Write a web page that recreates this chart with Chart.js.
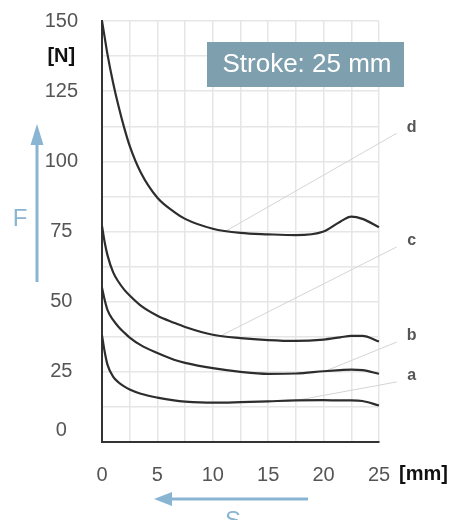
<!DOCTYPE html>
<html>
<head>
<meta charset="utf-8">
<style>
  html, body { margin: 0; padding: 0; background: #fff; }
  canvas { display: block; }
</style>
</head>
<body>
<canvas id="chart" width="452" height="520"></canvas>
<script src="https://cdn.jsdelivr.net/npm/chart.js"></script>
<script>
const strokeMm = [0, 0.25, 0.5, 1, 1.5, 2, 2.5, 3.5, 5, 6.5, 7.5, 10, 12.5, 15, 17.5, 20, 21.5, 22.5, 23.5, 25];
// force (N) for each spring curve
const forceA = [38, 32, 27.5, 23.3, 21.2, 19.8, 18.7, 17.2, 15.8, 14.8, 14.4, 14, 14.2, 14.5, 14.8, 14.9, 14.8, 14.8, 14.6, 13];
const forceB = [55, 50.5, 47, 43.5, 41, 39, 37.2, 34.5, 31.7, 29.3, 28.2, 26.3, 25, 24.3, 24.4, 25.2, 25.6, 25.8, 25.6, 24.3];
const forceC = [77, 71, 66.5, 60.5, 57, 54.3, 52.2, 48.6, 45, 42.5, 41, 38.2, 37, 36.3, 36, 36.5, 37.3, 37.8, 37.8, 35.8];
const forceD = [150, 144, 138, 128, 119.5, 112, 105.5, 96, 87, 82, 79.5, 76, 74.5, 74, 73.7, 75, 78.5, 80.3, 79.5, 76.5];
const curveNames = ["a", "b", "c", "d"];
// leader lines from a curve to its letter (mm, N)
const leaderFromX = [17.5, 20.3, 10.8, 11.1];
const leaderFromY = [14.8, 25.5, 38, 75];
const leaderToX = [26.6, 26.6, 26.6, 26.6];
const leaderToY = [21.4, 35.6, 69.5, 110];

const family = "'Liberation Sans', Arial, Helvetica, sans-serif";
const blue = "#89b5d2";

const curves = [forceA, forceB, forceC, forceD].map((f, i) => ({
  label: curveNames[i],
  data: strokeMm.map((s, j) => ({ x: s, y: f[j] })),
  borderColor: "#2d2d2d",
  borderWidth: 2.2,
  pointRadius: 0,
  cubicInterpolationMode: "monotone",
  clip: false,
  order: 1
}));

const leaders = curveNames.map((n, i) => ({
  label: "leader " + n,
  data: [
    { x: leaderFromX[i], y: leaderFromY[i] },
    { x: leaderToX[i], y: leaderToY[i] }
  ],
  borderColor: "#d4d4d4",
  borderWidth: 1,
  pointRadius: 0,
  tension: 0,
  clip: false,
  order: 2
}));

const extras = {
  id: "extras",
  afterDraw(chart) {
    const { ctx, scales: { x, y } } = chart;
    ctx.save();

    // curve letters
    ctx.fillStyle = "#555";
    ctx.font = "bold 16px " + family;
    ctx.textAlign = "center";
    ctx.textBaseline = "middle";
    curveNames.forEach((n, i) => {
      ctx.fillText(n, x.getPixelForValue(leaderToX[i]) + 15, y.getPixelForValue(leaderToY[i]) - 6);
    });

    // unit on x axis
    ctx.fillStyle = "#111";
    ctx.font = "bold 20px " + family;
    ctx.textAlign = "left";
    ctx.fillText("[mm]", 399, 474);

    // stroke box
    ctx.fillStyle = "#7e9fae";
    ctx.fillRect(207, 42, 197, 45);
    ctx.fillStyle = "#fff";
    ctx.font = "26px " + family;
    ctx.textAlign = "center";
    ctx.fillText("Stroke: 25 mm", 307, 65);

    // F arrow
    ctx.strokeStyle = blue;
    ctx.fillStyle = blue;
    ctx.lineWidth = 3;
    ctx.beginPath();
    ctx.moveTo(37, 282);
    ctx.lineTo(37, 140);
    ctx.stroke();
    ctx.beginPath();
    ctx.moveTo(37, 124);
    ctx.lineTo(30.5, 145);
    ctx.lineTo(43.5, 145);
    ctx.closePath();
    ctx.fill();
    ctx.font = "24px " + family;
    ctx.fillText("F", 20, 219);

    // S arrow
    ctx.beginPath();
    ctx.moveTo(308, 499);
    ctx.lineTo(168, 499);
    ctx.stroke();
    ctx.beginPath();
    ctx.moveTo(154, 499);
    ctx.lineTo(172, 492);
    ctx.lineTo(172, 506);
    ctx.closePath();
    ctx.fill();
    ctx.textBaseline = "top";
    ctx.fillText("S", 233, 509);

    ctx.restore();
  }
};

new Chart(document.getElementById("chart").getContext("2d"), {
  type: "line",
  data: { datasets: [...curves, ...leaders] },
  options: {
    responsive: false,
    animation: false,
    layout: { padding: { top: 21, right: 73, bottom: 18, left: 0 } },
    plugins: { legend: { display: false }, tooltip: { enabled: false } },
    scales: {
      x: {
        type: "linear",
        min: 0,
        max: 25,
        border: { color: "#333", width: 2 },
        grid: { color: "#e6e6e6", lineWidth: 1.5, drawTicks: false },
        ticks: {
          stepSize: 2.5,
          padding: 21,
          autoSkip: false,
          maxRotation: 0,
          color: "#555",
          font: { size: 20, family: family },
          callback: (v) => (v % 5 === 0 ? String(v) : "")
        },
        afterFit: (s) => { s.height = 60; }
      },
      y: {
        min: 0,
        max: 150,
        border: { color: "#333", width: 2 },
        grid: { color: "#e6e6e6", lineWidth: 1.5, drawTicks: false },
        ticks: {
          stepSize: 12.5,
          padding: 24,
          autoSkip: false,
          crossAlign: "center",
          color: (c) => (c.tick && c.tick.value === 137.5 ? "#111" : "#555"),
          font: (c) => ({
            size: 20,
            family: family,
            weight: c.tick && c.tick.value === 137.5 ? "bold" : "normal"
          }),
          callback: (v) => {
            if (v === 137.5) return "[N]";
            if (v === 0) return ["0", ""];
            return v % 25 === 0 ? String(v) : "";
          }
        },
        afterFit: (s) => {
          s.width = 102;
          // let layout.padding decide the top/bottom of the plot
          s.paddingTop = 0;
          s.paddingBottom = 0;
        }
      }
    }
  },
  plugins: [extras]
});
</script>
</body>
</html>
